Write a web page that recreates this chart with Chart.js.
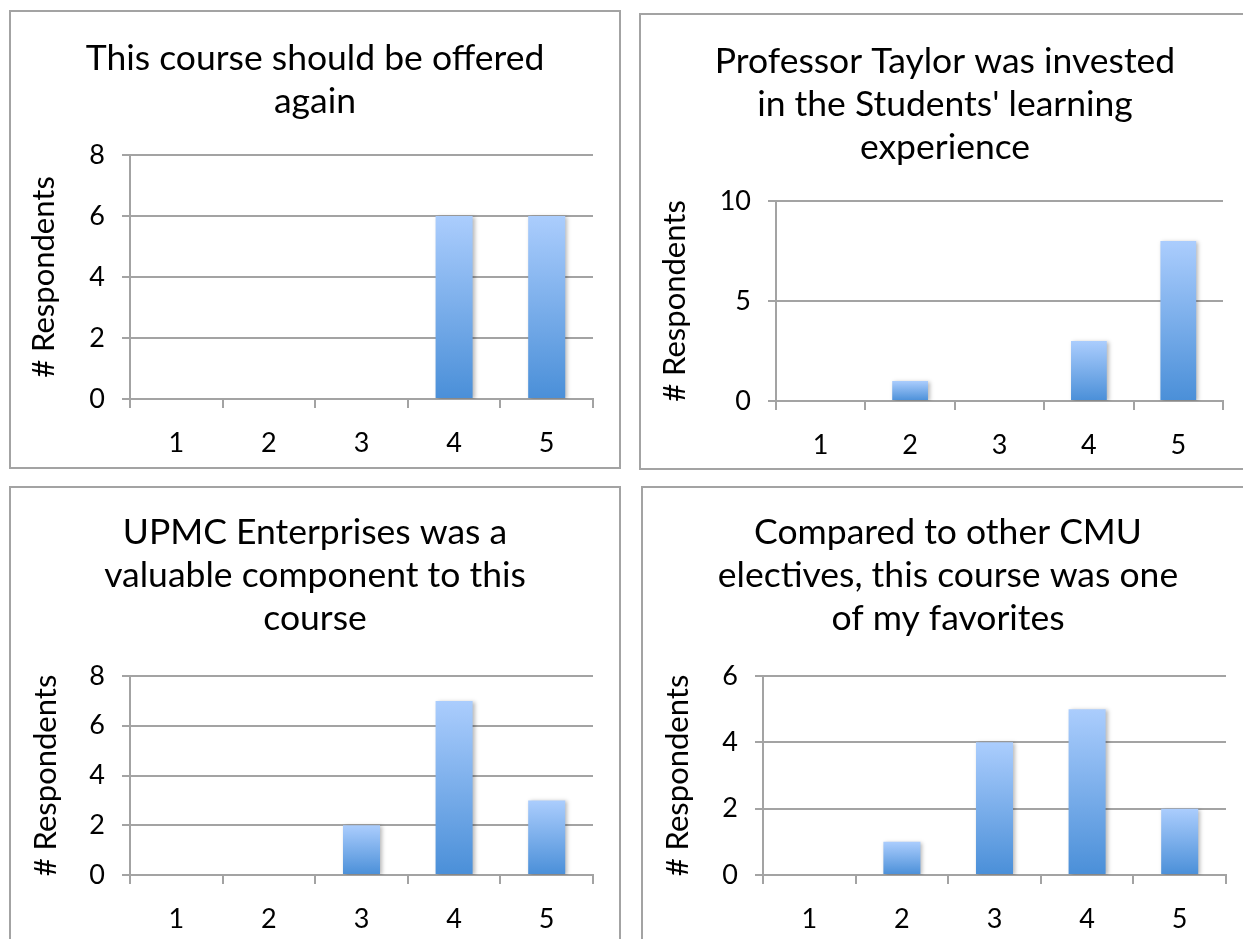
<!DOCTYPE html>
<html>
<head>
<meta charset="utf-8">
<script src="https://cdn.jsdelivr.net/npm/chart.js@4.4.1/dist/chart.umd.min.js"></script>
<style>
  html, body { margin: 0; padding: 0; background: #fff; overflow: hidden; }
  body { width: 1243px; height: 939px; position: relative; }
  .panel { position: absolute; box-sizing: border-box; border: 2px solid #a3a3a3; background: #fff; }
  .panel canvas { position: absolute; left: 0; top: 0; }
</style>
</head>
<body>
<div class="panel" id="p1" style="left:9px;top:10px;width:612px;height:459px;"><canvas id="c1"></canvas></div>
<div class="panel" id="p2" style="left:639px;top:13px;width:612px;height:457px;"><canvas id="c2"></canvas></div>
<div class="panel" id="p3" style="left:9px;top:486px;width:612px;height:470px;"><canvas id="c3"></canvas></div>
<div class="panel" id="p4" style="left:641px;top:486px;width:614px;height:470px;"><canvas id="c4"></canvas></div>
<script>
// ---- data ----
const categories = ['1', '2', '3', '4', '5'];
const offeredAgain = [0, 0, 0, 6, 6];
const investedLearning = [0, 1, 0, 3, 8];
const upmcValuable = [0, 0, 2, 7, 3];
const favoriteElective = [0, 1, 4, 5, 2];
const title1 = ['This course should be offered', 'again'];
const title2 = ['Professor Taylor was invested', "in the Students' learning", 'experience'];
const title3 = ['UPMC Enterprises was a', 'valuable component to this', 'course'];
const title4 = ['Compared to other CMU', 'electives, this course was one', 'of my favorites'];
const yAxisTitle = '# Respondents';
const yMax1 = 8, yStep1 = 2;
const yMax2 = 10, yStep2 = 5;
const yMax3 = 8, yStep3 = 2;
const yMax4 = 6, yStep4 = 2;

// ---- styling ----
const FONT = 'Lato, "Open Sans", sans-serif';
const GRID = '#a3a3a3';
const TITLE_SIZE = 35.5;
const TICK_SIZE = 27;
const AXIS_TITLE_SIZE = 31;
const AXIS_TITLE_LH = AXIS_TITLE_SIZE * 1.2;
Chart.defaults.color = '#000';
Chart.defaults.font.family = FONT;

const shadowPlugin = {
  id: 'barShadow',
  beforeDatasetsDraw(chart) {
    const ctx = chart.ctx;
    ctx.save();
    ctx.shadowColor = 'rgba(0,0,0,0.28)';
    ctx.shadowBlur = 4;
    ctx.shadowOffsetX = 2;
    ctx.shadowOffsetY = 1;
  },
  afterDatasetsDraw(chart) { chart.ctx.restore(); }
};

function barFill(c) {
  const chart = c.chart;
  const { ctx, chartArea, scales } = chart;
  if (!chartArea || c.type !== 'data' || !scales.y) return '#70a8e8';
  const y0 = scales.y.getPixelForValue(0);
  const y1 = scales.y.getPixelForValue(c.raw);
  if (Math.abs(y1 - y0) < 0.5) return '#70a8e8';
  const g = ctx.createLinearGradient(0, y1, 0, y0);
  g.addColorStop(0, '#abcdfd');
  g.addColorStop(1, '#4a8fd8');
  return g;
}

function makeChart(id, values, titleLines, yMax, yStep, p) {
  const canvas = document.getElementById(id);
  canvas.width = p.w; canvas.height = p.h;
  canvas.style.width = p.w + 'px'; canvas.style.height = p.h + 'px';
  return new Chart(canvas, {
    type: 'bar',
    data: {
      labels: categories,
      datasets: [{
        data: values,
        backgroundColor: barFill,
        borderWidth: 0,
        barPercentage: 0.4,
        categoryPercentage: 1.0
      }]
    },
    plugins: [shadowPlugin],
    options: {
      responsive: false,
      animation: false,
      devicePixelRatio: 1,
      layout: { padding: { left: p.side, right: p.side, top: 0, bottom: 0 } },
      plugins: {
        legend: { display: false },
        tooltip: { enabled: false },
        title: {
          display: true,
          text: titleLines,
          color: '#000',
          font: { family: FONT, size: TITLE_SIZE, weight: 'normal', lineHeight: '43px' },
          padding: { top: p.tTop, bottom: p.tBottom }
        }
      },
      scales: {
        x: {
          grid: { display: true, drawOnChartArea: false, drawTicks: true, tickLength: 9, color: GRID, lineWidth: 2, offset: true },
          border: { display: true, color: GRID, width: 2 },
          ticks: { font: { family: FONT, size: TICK_SIZE }, color: '#000', padding: 19.5, maxRotation: 0 },
          afterFit: s => { s.height = p.xh; }
        },
        y: {
          min: 0, max: yMax,
          grid: { color: GRID, lineWidth: 2, drawTicks: true, tickLength: 8 },
          border: { display: true, color: GRID, width: 2 },
          ticks: { stepSize: yStep, font: { family: FONT, size: TICK_SIZE }, color: '#000', padding: 17 },
          title: {
            display: true, text: yAxisTitle, color: '#000',
            font: { family: FONT, size: AXIS_TITLE_SIZE, weight: 'normal', lineHeight: 1.2 },
            padding: { top: p.axisTitleX - p.side - AXIS_TITLE_LH / 2, bottom: 0 }
          },
          afterFit: s => { s.width = p.yw; }
        }
      }
    }
  });
}

makeChart('c1', offeredAgain, title1, yMax1, yStep1, { w: 608, h: 455, side: 26, yw: 93, xh: 68, tTop: 25, tBottom: 32, axisTitleX: 33 });
makeChart('c2', investedLearning, title2, yMax2, yStep2, { w: 608, h: 453, side: 26, yw: 109, xh: 67, tTop: 25, tBottom: 32, axisTitleX: 34 });
makeChart('c3', upmcValuable, title3, yMax3, yStep3, { w: 608, h: 466, side: 26, yw: 93, xh: 79, tTop: 23, tBottom: 36, axisTitleX: 35 });
makeChart('c4', favoriteElective, title4, yMax4, yStep4, { w: 610, h: 466, side: 27, yw: 93, xh: 79, tTop: 23, tBottom: 36, axisTitleX: 35 });
</script>
</body>
</html>
